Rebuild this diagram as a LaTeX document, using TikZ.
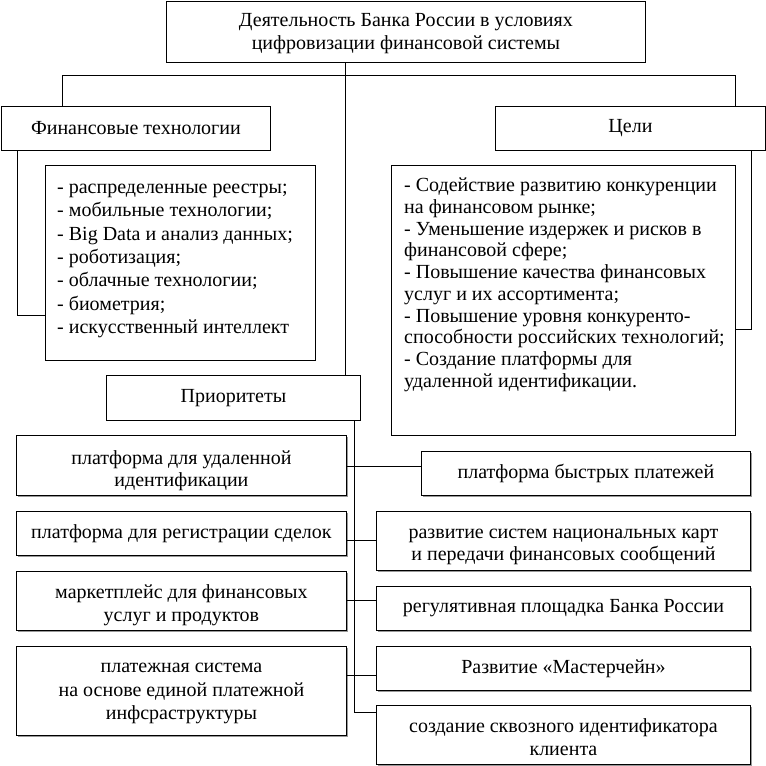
\documentclass[tikz,border=0pt]{standalone}
\usepackage{fontspec}
\setmainfont{Liberation Serif}
\usetikzlibrary{shadows}
\begin{document}
\begin{tikzpicture}[x=1pt,y=-1pt,
  box/.style={draw, line width=0.9pt, inner sep=0pt, anchor=north west, align=center, fill=white,
    font=\fontsize{20}{24}\selectfont},
  pbox/.style={box, drop shadow={shadow xshift=1.3pt, shadow yshift=-1.3pt, fill=black!40, opacity=1}},
  ptext/.style={align=center, inner sep=0pt, font=\fontsize{20}{22.5}\selectfont},
  conn/.style={line width=0.9pt},
  listA/.style={anchor=north west, align=left, inner sep=0pt, font=\fontsize{20}{23.3}\selectfont},
  listB/.style={anchor=north west, align=left, inner sep=0pt, font=\fontsize{20}{21.7}\selectfont}
]
\useasboundingbox (0,0) rectangle (766,766);

% top level
\node[box, minimum width=479pt, minimum height=61pt] (top) at (166,1) {};
\node[ptext, font=\fontsize{20}{23}\selectfont] (topt) at ([yshift=-2pt]top.center)
  {Деятельность Банка России в условиях\\цифровизации финансовой системы};
\node[box, minimum width=269pt, minimum height=44pt] (fin) at (1,106) {Финансовые технологии};
\node[box, minimum width=270pt, minimum height=44pt] (goals) at (495,106) {Цели};

% lists
\node[box, minimum width=270pt, minimum height=195pt] (finlist) at (45,165) {};
\node[listA] (finlistt) at (57,184)
  {- распределенные реестры;\\- мобильные технологии;\\- Big Data и анализ данных;\\- роботизация;\\- облачные технологии;\\- биометрия;\\- искусственный интеллект};
\node[box, minimum width=344pt, minimum height=270pt] (goallist) at (391,165) {};
\node[listB] (goallistt) at (404,178)
  {- Содействие развитию конкуренции\\на финансовом рынке;\\- Уменьшение издержек и рисков в\\финансовой сфере;\\- Повышение качества финансовых\\услуг и их ассортимента;\\- Повышение уровня конкуренто-\\способности российских технологий;\\- Создание платформы для\\удаленной идентификации.};

\node[box, minimum width=254pt, minimum height=45pt] (prior) at (106,375) {Приоритеты};

% priorities left
\node[pbox, minimum width=330pt, minimum height=60pt] (L1) at (16,435) {};
\node[ptext] (L1t) at ([yshift=-5pt]L1.center) {платформа для удаленной\\идентификации};
\node[pbox, minimum width=330pt, minimum height=44pt] (L2) at (16,511) {платформа для регистрации сделок};
\node[pbox, minimum width=330pt, minimum height=59pt] (L3) at (16,571) {};
\node[ptext] (L3t) at ([yshift=-4.5pt]L3.center) {маркетплейс для финансовых\\услуг и продуктов};
\node[pbox, minimum width=330pt, minimum height=89pt] (L4) at (16,646) {};
\node[ptext, font=\fontsize{20}{23.5}\selectfont] (L4t) at ([yshift=-2.5pt]L4.center) {платежная система\\на основе единой платежной\\инфсраструктуры};

% priorities right
\node[pbox, minimum width=329pt, minimum height=44pt] (R1) at (421,451) {платформа быстрых платежей};
\node[pbox, minimum width=374pt, minimum height=59pt] (R2) at (376,511) {};
\node[ptext, font=\fontsize{20}{21.5}\selectfont] (R2t) at ([yshift=-6pt]R2.center) {развитие систем национальных карт\\и передачи финансовых сообщений};
\node[pbox, minimum width=374pt, minimum height=44pt] (R3) at (376,586) {регулятивная площадка Банка России};
\node[pbox, minimum width=374pt, minimum height=44pt] (R4) at (376,646) {Развитие «Мастерчейн»};
\node[pbox, minimum width=374pt, minimum height=59pt] (R5) at (376,705) {};
\node[ptext, font=\fontsize{20}{23}\selectfont] (R5t) at ([yshift=-2.5pt]R5.center) {создание сквозного идентификатора\\клиента};

% connectors
\coordinate (t1) at (345,0);
\draw[conn] (top.south -| t1) -- (prior.north -| t1);
\coordinate (hl) at (62,75);
\coordinate (hr) at (735,75);
\draw[conn] (fin.north -| hl) -- (hl) -- (hr) -- (goals.north -| hr);
\coordinate (lc) at (17,315);
\draw[conn] (fin.south -| lc) -- (lc) -- (finlist.west |- lc);
\coordinate (rc) at (751,329);
\draw[conn] (goals.south -| rc) -- (rc) -- (goallist.east |- rc);
\coordinate (pt) at (354,712);
\draw[conn] (prior.south -| pt) -- (pt) -- (R5.west |- pt);
\coordinate (b1) at (0,466);
\coordinate (b2) at (0,540);
\coordinate (b3) at (0,600);
\coordinate (b4) at (0,675);
\draw[conn] (L1.east |- b1) -- (R1.west |- b1);
\draw[conn] (L2.east |- b2) -- (R2.west |- b2);
\draw[conn] (L3.east |- b3) -- (R3.west |- b3);
\draw[conn] (L4.east |- b4) -- (R4.west |- b4);
\end{tikzpicture}
\end{document}
